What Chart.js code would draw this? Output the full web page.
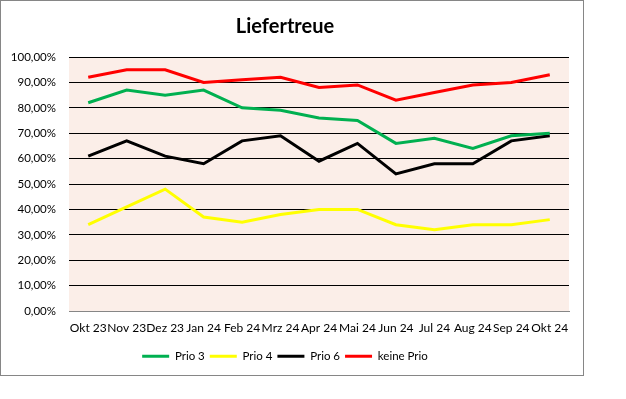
<!DOCTYPE html>
<html>
<head>
<meta charset="utf-8">
<script src="https://cdn.jsdelivr.net/npm/chart.js@4"></script>
<style>
  body { margin: 0; background: #fff; }
  #box { position: absolute; left: 0; top: 0; width: 582px; height: 374px; border: 1px solid #868686; background: #fff; }
  canvas { display: block; }
</style>
</head>
<body>
<div id="box"><canvas id="chart" width="582" height="374"></canvas></div>
<script>
const months = ["Okt 23", "Nov 23", "Dez 23", "Jan 24", "Feb 24", "Mrz 24", "Apr 24", "Mai 24", "Jun 24", "Jul 24", "Aug 24", "Sep 24", "Okt 24"];
const prio3 = [82, 87, 85, 87, 80, 79, 76, 75, 66, 68, 64, 69, 70];
const prio4 = [34, 41, 48, 37, 35, 38, 40, 40, 34, 32, 34, 34, 36];
const prio6 = [61, 67, 61, 58, 67, 69, 59, 66, 54, 58, 58, 67, 69];
const keinePrio = [92, 95, 95, 90, 91, 92, 88, 89, 83, 86, 89, 90, 93];

const fontFamily = "Lato, 'Liberation Sans', sans-serif";

// rosa Hintergrund der Zeichenfläche
const plotBg = {
    id: 'plotBg',
    beforeDraw(chart) {
        const a = chart.chartArea;
        const ctx = chart.ctx;
        ctx.save();
        ctx.fillStyle = '#FBEEE8';
        ctx.fillRect(a.left, a.top, a.right - a.left, a.bottom - a.top);
        ctx.restore();
    }
};

function serie(label, data, color) {
    return {
        label: label,
        data: data,
        borderColor: color,
        backgroundColor: color,
        borderWidth: 3,
        pointRadius: 0,
        tension: 0
    };
}

new Chart(document.getElementById('chart'), {
    type: 'line',
    data: {
        labels: months,
        datasets: [
            serie('Prio 3', prio3, '#00B050'),
            serie('Prio 4', prio4, '#FFFF00'),
            serie('Prio 6', prio6, '#000000'),
            serie('keine Prio', keinePrio, '#FF0000')
        ]
    },
    options: {
        responsive: false,
        animation: false,
        layout: { padding: { left: 0, right: 14, top: 0, bottom: 3 } },
        plugins: {
            title: {
                display: true,
                text: 'Liefertreue',
                color: '#000',
                font: { family: fontFamily, size: 20, weight: 'bold' },
                padding: { top: 14, bottom: 18 }
            },
            legend: {
                position: 'bottom',
                labels: {
                    color: '#000',
                    font: { family: fontFamily, size: 11.5 },
                    usePointStyle: true,
                    pointStyle: 'line',
                    pointStyleWidth: 27,
                    boxHeight: 11,
                    padding: 5
                }
            },
            tooltip: { enabled: false }
        },
        scales: {
            x: {
                offset: true,
                grid: { display: false, drawTicks: false },
                border: { display: true, color: '#868686', width: 1 },
                ticks: {
                    color: '#000',
                    font: { family: fontFamily, size: 12 },
                    maxRotation: 0,
                    autoSkip: false,
                    padding: 10
                }
            },
            y: {
                min: 0,
                max: 100,
                afterFit(scale) { scale.width = 68; },
                grid: { color: '#000', lineWidth: 1, drawTicks: false },
                border: { display: false },
                ticks: {
                    stepSize: 10,
                    color: '#000',
                    font: { family: fontFamily, size: 11.5 },
                    padding: 13,
                    callback: v => v.toFixed(2).replace('.', ',') + '%'
                }
            }
        }
    },
    plugins: [plotBg]
});
</script>
</body>
</html>
